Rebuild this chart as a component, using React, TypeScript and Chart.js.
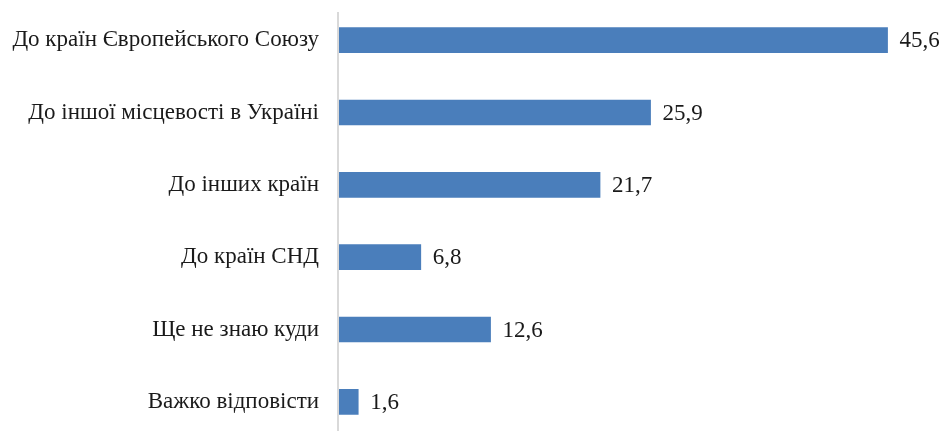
import React, { useEffect, useRef } from "react";
import { Chart, registerables } from "chart.js";

Chart.register(...registerables);

const categories = [
  "До країн Європейського Союзу",
  "До іншої місцевості в Україні",
  "До інших країн",
  "До країн СНД",
  "Ще не знаю куди",
  "Важко відповісти",
];
const values = [45.6, 25.9, 21.7, 6.8, 12.6, 1.6];

const FONT = "'Liberation Serif', 'Times New Roman', serif";

const valueLabels = {
  id: "valueLabels",
  afterDatasetsDraw(chart: any) {
    const ctx = chart.ctx;
    const meta = chart.getDatasetMeta(0);
    ctx.save();
    ctx.font = `23px ${FONT}`;
    ctx.fillStyle = "#1a1a1a";
    ctx.textAlign = "left";
    ctx.textBaseline = "middle";
    meta.data.forEach((bar: any, i: number) => {
      const txt = values[i].toFixed(1).replace(".", ",");
      ctx.fillText(txt, bar.x + 12, bar.y + 1);
    });
    ctx.restore();
  },
};

const axisLine = {
  id: "axisLine",
  beforeDatasetsDraw(chart: any) {
    const ctx = chart.ctx;
    const x = chart.scales.x.getPixelForValue(0) - 1;
    ctx.save();
    ctx.strokeStyle = "#d9d9d9";
    ctx.lineWidth = 2;
    ctx.beginPath();
    ctx.moveTo(x, 12);
    ctx.lineTo(x, chart.height);
    ctx.stroke();
    ctx.restore();
  },
};

export default function App() {
  const ref = useRef<HTMLCanvasElement>(null);
  useEffect(() => {
    if (!ref.current) return;
    const chart = new Chart(ref.current, {
      type: "bar",
      data: {
        labels: categories,
        datasets: [
          {
            data: values,
            backgroundColor: "#4a7ebb",
            barThickness: 25,
          },
        ],
      },
      options: {
        indexAxis: "y",
        responsive: false,
        animation: false,
        devicePixelRatio: 1,
        layout: { padding: { top: 4, bottom: 2, left: 0, right: 2.5 } },
        plugins: {
          legend: { display: false },
          tooltip: { enabled: false },
        },
        scales: {
          x: {
            min: 0,
            max: 50,
            display: false,
          },
          y: {
            grid: { display: false, drawTicks: false },
            border: { display: false },
            ticks: {
              padding: 20,
              color: "#1a1a1a",
              font: { family: FONT, size: 23 },
            },
            afterFit(scale: any) {
              scale.width = 339;
              scale.paddingTop = 0;
              scale.paddingBottom = 0;
            },
          },
        },
      },
      plugins: [axisLine, valueLabels],
    });
    return () => chart.destroy();
  }, []);
  return (
    <div
      style={{
        position: "absolute",
        left: 0,
        top: 0,
        width: 943,
        height: 431,
        overflow: "hidden",
        background: "#fff",
      }}
    >
      <canvas ref={ref} width={943} height={440} style={{ display: "block" }} />
    </div>
  );
}
